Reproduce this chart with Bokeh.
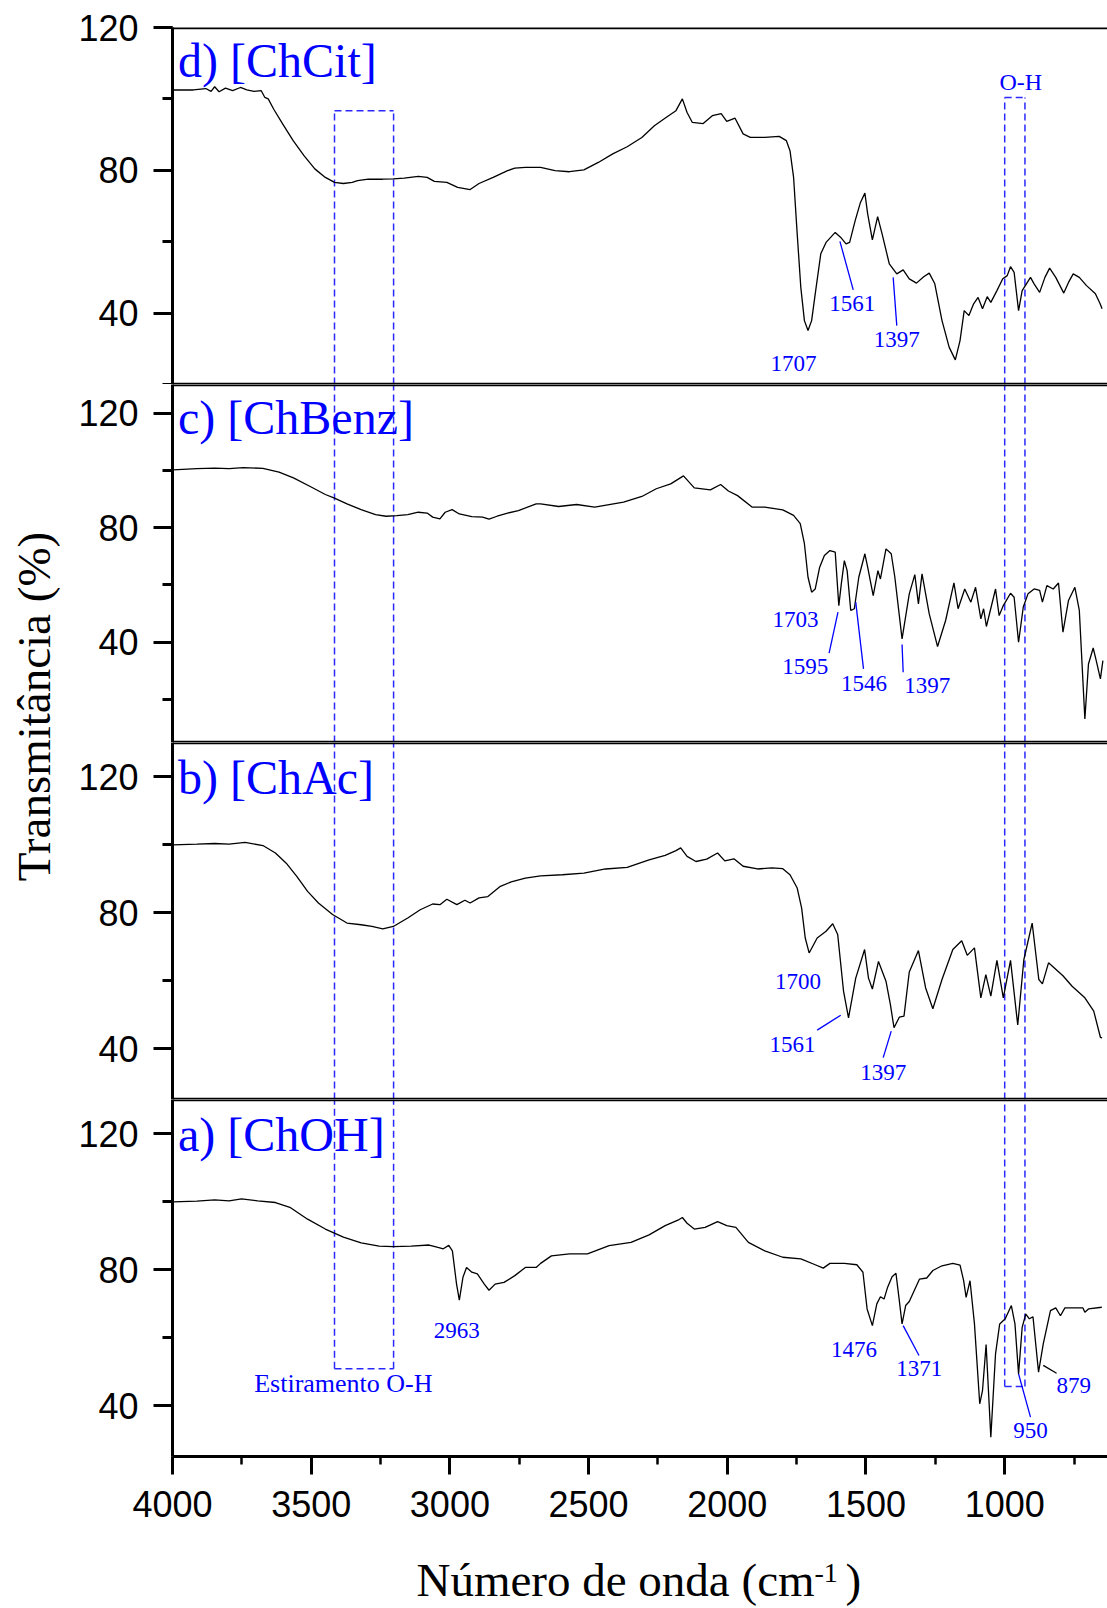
from math import pi
from bokeh.plotting import figure
from bokeh.layouts import row, column
from bokeh.models import Range1d, Span, SingleIntervalTicker
from bokeh.core.properties import value
from bokeh.embed import file_html
from bokeh.resources import INLINE

# ---------------- data: (wavenumber cm-1, transmittance %) ----------------
chcit = [(3998, 102.5), (3925, 102.5), (3880, 102.9), (3861, 102.1), (3848, 103.4), (3832, 102.0),
         (3809, 103.0), (3783, 102.3), (3755, 103.2), (3732, 102.5), (3706, 102.1), (3680, 102.3),
         (3667, 100.4), (3655, 100.0), (3635, 97.1), (3603, 93.0), (3565, 88.3), (3526, 84.1),
         (3487, 80.4), (3449, 78.0), (3416, 76.6), (3384, 76.3), (3352, 76.6), (3333, 77.1),
         (3294, 77.5), (3243, 77.5), (3204, 77.6), (3165, 77.8), (3114, 78.3), (3082, 78.0),
         (3056, 76.9), (3011, 76.6), (2972, 75.2), (2927, 74.6), (2895, 76.3), (2844, 78.0),
         (2792, 79.9), (2766, 80.6), (2728, 80.8), (2689, 80.8), (2673, 80.8), (2621, 79.9),
         (2569, 79.6), (2517, 80.1), (2465, 82.2), (2413, 84.6), (2361, 86.6), (2308, 89.2),
         (2263, 92.5), (2217, 95.0), (2185, 96.7), (2162, 100.0), (2145, 96.2), (2126, 93.4),
         (2087, 93.1), (2054, 95.3), (2022, 95.9), (2002, 93.7), (1972, 94.6), (1943, 90.2),
         (1917, 89.2), (1865, 89.2), (1813, 89.5), (1787, 88.3), (1774, 85.5), (1761, 78.0),
         (1748, 62.2), (1735, 47.2), (1722, 37.9), (1709, 35.1), (1696, 37.9), (1683, 45.4),
         (1663, 56.6), (1644, 59.8), (1611, 62.6), (1591, 61.2), (1572, 59.4), (1559, 59.8),
         (1539, 65.9), (1520, 71.0), (1504, 73.6), (1494, 67.8), (1477, 60.5), (1458, 67.0),
         (1442, 62.2), (1416, 53.8), (1389, 51.0), (1366, 52.1), (1344, 49.6), (1318, 48.4),
         (1292, 50.2), (1272, 51.2), (1252, 48.2), (1226, 37.9), (1200, 30.4), (1178, 26.9),
         (1161, 32.3), (1146, 40.7), (1129, 39.3), (1112, 42.6), (1096, 44.4), (1080, 41.2),
         (1063, 44.6), (1050, 43.0), (1028, 46.3), (1007, 49.6), (991, 50.5), (979, 53.0),
         (966, 51.4), (950, 40.7), (937, 46.3), (907, 50.0), (894, 48.2), (874, 45.8),
         (855, 50.0), (838, 52.6), (816, 50.0), (787, 45.6), (770, 48.6), (753, 51.0),
         (731, 50.0), (705, 47.7), (673, 45.4), (656, 42.6), (649, 41.2)]

chbenz = [(3998, 100.2), (3912, 100.6), (3848, 100.8), (3796, 100.6), (3745, 101.0), (3674, 100.7),
          (3616, 99.4), (3564, 97.4), (3500, 94.2), (3449, 91.6), (3416, 90.3), (3371, 88.3),
          (3320, 86.3), (3268, 84.6), (3230, 84.0), (3191, 84.2), (3152, 84.6), (3114, 85.4),
          (3082, 85.1), (3062, 83.7), (3036, 83.1), (3017, 85.4), (2992, 86.3), (2966, 84.8),
          (2921, 83.9), (2882, 83.7), (2859, 83.0), (2830, 84.0), (2792, 85.1), (2753, 86.0),
          (2689, 88.3), (2673, 88.3), (2608, 87.4), (2543, 88.1), (2478, 87.2), (2374, 88.9),
          (2308, 90.9), (2256, 93.6), (2204, 95.3), (2158, 98.1), (2119, 93.9), (2061, 93.2),
          (2024, 95.1), (1996, 92.8), (1963, 91.2), (1911, 87.2), (1865, 87.2), (1800, 86.2),
          (1761, 84.3), (1737, 81.4), (1722, 74.4), (1709, 62.7), (1696, 57.5), (1683, 58.6),
          (1667, 66.2), (1650, 70.3), (1630, 72.0), (1611, 71.5), (1598, 52.8), (1589, 60.4),
          (1578, 68.5), (1568, 65.0), (1555, 51.1), (1542, 51.7), (1526, 62.7), (1504, 70.9),
          (1494, 66.2), (1474, 56.3), (1457, 65.0), (1448, 62.1), (1428, 72.6), (1409, 70.9),
          (1396, 62.7), (1370, 41.2), (1344, 56.9), (1324, 63.6), (1311, 53.4), (1298, 63.9),
          (1272, 49.9), (1242, 38.5), (1213, 47.6), (1183, 60.7), (1168, 51.7), (1144, 58.6),
          (1122, 54.0), (1105, 59.2), (1086, 48.2), (1076, 51.7), (1066, 45.5), (1033, 58.6),
          (1020, 49.3), (1005, 52.8), (979, 57.1), (966, 55.7), (950, 40.0), (933, 52.3),
          (916, 56.9), (894, 58.6), (874, 58.1), (864, 54.0), (848, 59.8), (825, 58.6),
          (806, 60.7), (790, 43.5), (770, 54.6), (747, 59.2), (731, 51.1), (711, 13.2),
          (698, 32.4), (681, 38.0), (670, 33.6), (655, 27.2), (646, 33.6)]

chac = [(3998, 99.9), (3912, 100.1), (3848, 100.3), (3796, 100.1), (3738, 100.6), (3674, 99.7),
        (3629, 97.5), (3590, 94.5), (3552, 90.6), (3513, 86.2), (3474, 82.8), (3423, 79.4),
        (3371, 76.9), (3320, 76.4), (3281, 75.9), (3242, 75.2), (3204, 75.9), (3152, 78.4),
        (3107, 80.8), (3062, 82.5), (3036, 82.3), (3011, 83.9), (2975, 82.3), (2946, 83.6),
        (2927, 82.8), (2895, 84.3), (2863, 84.7), (2818, 87.7), (2779, 89.0), (2728, 90.1),
        (2673, 90.8), (2595, 91.1), (2517, 91.6), (2439, 92.8), (2361, 93.3), (2282, 95.5),
        (2224, 96.8), (2185, 98.2), (2168, 99.0), (2145, 96.5), (2113, 95.0), (2074, 95.7),
        (2035, 97.5), (2009, 95.2), (1976, 95.8), (1943, 93.6), (1891, 92.8), (1839, 93.1),
        (1800, 92.9), (1774, 91.1), (1748, 87.2), (1732, 81.3), (1719, 72.5), (1705, 68.1),
        (1676, 72.5), (1644, 74.5), (1620, 76.7), (1602, 73.5), (1581, 56.9), (1563, 49.0),
        (1537, 60.7), (1505, 69.1), (1491, 60.7), (1477, 57.5), (1455, 65.6), (1428, 59.8),
        (1412, 52.9), (1399, 46.1), (1380, 49.2), (1363, 49.5), (1344, 62.5), (1311, 68.8),
        (1285, 57.8), (1259, 51.7), (1226, 60.3), (1187, 69.1), (1155, 71.7), (1135, 67.4),
        (1109, 69.6), (1086, 54.9), (1068, 61.7), (1050, 55.4), (1028, 65.9), (1005, 54.9),
        (979, 65.9), (953, 46.9), (931, 66.1), (901, 76.9), (877, 60.3), (864, 59.0),
        (842, 65.2), (790, 61.4), (757, 58.3), (711, 54.9), (679, 51.0), (655, 43.3), (649, 43.1)]

choh = [(3998, 99.9), (3912, 100.1), (3848, 100.5), (3796, 100.2), (3751, 100.8), (3693, 100.2),
        (3629, 99.7), (3577, 98.3), (3513, 94.8), (3449, 91.9), (3384, 89.5), (3320, 87.8),
        (3255, 86.9), (3204, 86.7), (3140, 86.9), (3075, 87.2), (3043, 86.5), (3024, 86.1),
        (3004, 87.1), (2991, 85.5), (2976, 75.7), (2966, 71.0), (2953, 77.7), (2940, 80.6),
        (2921, 79.2), (2901, 78.7), (2876, 75.7), (2859, 73.9), (2837, 75.7), (2805, 76.2),
        (2766, 78.2), (2728, 80.6), (2689, 80.6), (2673, 81.8), (2634, 84.0), (2569, 84.6),
        (2504, 84.6), (2426, 87.0), (2347, 88.0), (2282, 90.2), (2224, 92.9), (2178, 94.5),
        (2162, 95.3), (2145, 93.6), (2119, 91.9), (2080, 92.4), (2035, 94.1), (2002, 92.9),
        (1969, 92.4), (1924, 88.0), (1865, 85.5), (1800, 83.6), (1735, 83.1), (1683, 81.4),
        (1654, 80.4), (1630, 81.8), (1578, 81.8), (1533, 81.4), (1511, 79.2), (1496, 68.4),
        (1477, 63.5), (1461, 69.9), (1448, 72.0), (1435, 71.3), (1422, 74.8), (1406, 77.9),
        (1392, 78.9), (1380, 70.9), (1370, 64.0), (1357, 69.4), (1344, 70.6), (1307, 77.2),
        (1281, 77.5), (1259, 79.7), (1226, 81.1), (1187, 81.8), (1161, 81.3), (1148, 76.7),
        (1139, 71.8), (1125, 76.7), (1109, 64.0), (1090, 40.5), (1080, 44.4), (1067, 57.9),
        (1050, 30.7), (1033, 55.2), (1018, 64.0), (998, 65.5), (976, 69.4), (963, 64.0),
        (950, 49.3), (937, 63.0), (924, 66.9), (911, 65.5), (898, 66.1), (878, 49.8),
        (861, 58.1), (835, 67.9), (816, 68.7), (799, 66.4), (783, 68.7), (744, 68.7),
        (718, 68.7), (711, 67.4), (698, 68.4), (650, 68.9)]

panel_titles = ["d) [ChCit]", "c) [ChBenz]", "b) [ChAc]", "a) [ChOH]"]
y_tick_interval = 40
x_tick_interval = 500

# ---------------- styling / layout constants ----------------
SERIF = value("Liberation Serif")
SANS = "Liberation Sans"
BLUE = "#0000ff"
DASH_BLUE = "#2a2aff"

LEFT_W = 60
PANEL_W = 1107 - LEFT_W
BORDER_L = 112
TOP_B = 27
BOT_B = 80
H_D, H_C, H_B, H_A = 357, 358, 357, 357
XL_H = 71
TOTAL_H = (H_D + TOP_B) + H_C + H_B + (H_A + BOT_B) + XL_H

X_RANGE = Range1d(4000, 629.4)


def make_panel(yr, frame_h, top_border=0, bottom_border=0, show_x=False):
    p = figure(width=PANEL_W, height=frame_h + top_border + bottom_border,
               x_range=X_RANGE, y_range=Range1d(*yr),
               output_backend="svg", toolbar_location=None,
               x_axis_location="below" if show_x else None,
               min_border=0, min_border_left=BORDER_L, min_border_right=0,
               min_border_top=top_border, min_border_bottom=bottom_border)
    p.outline_line_color = None
    p.grid.visible = False
    ya = p.yaxis[0]
    ya.ticker = SingleIntervalTicker(interval=y_tick_interval, num_minor_ticks=2)
    ya.axis_line_width = 3
    ya.major_tick_line_width = 3
    ya.minor_tick_line_width = 3
    ya.major_tick_in = 0
    ya.minor_tick_in = 0
    ya.major_tick_out = 19
    ya.minor_tick_out = 10
    ya.major_label_text_font = SANS
    ya.major_label_text_font_size = "36px"
    ya.major_label_text_color = "black"
    ya.major_label_standoff = 15
    if show_x:
        xa = p.xaxis[0]
        xa.ticker = SingleIntervalTicker(interval=x_tick_interval, num_minor_ticks=2)
        xa.axis_line_width = 3
        xa.major_tick_line_width = 3
        xa.minor_tick_line_width = 2.5
        xa.major_tick_in = 0
        xa.minor_tick_in = 0
        xa.major_tick_out = 18
        xa.minor_tick_out = 8
        xa.major_label_text_font = SANS
        xa.major_label_text_font_size = "36px"
        xa.major_label_text_color = "black"
        xa.major_label_standoff = 16
    # frame top / bottom lines
    p.add_layout(Span(location=yr[1], dimension="width", line_color="black", line_width=3.5))
    if not show_x:
        p.add_layout(Span(location=yr[0], dimension="width", line_color="black", line_width=3.5))
    return p


def spectrum(p, data):
    xs = [d[0] for d in data]
    ys = [d[1] for d in data]
    p.line(xs, ys, line_color="black", line_width=1.3)


def title(p, txt, y):
    p.text(x=[3980], y=[y], text=[txt], text_font=SERIF, text_font_size="48px",
           text_color=BLUE, text_align="left", text_baseline="middle")


def labels(p, items, size="23px"):
    p.text(x=[i[1] for i in items], y=[i[2] for i in items], text=[i[0] for i in items],
           text_font=SERIF, text_font_size=size, text_color=BLUE,
           text_align="center", text_baseline="middle")


def leaders(p, segs, color=BLUE):
    p.segment(x0=[s[0] for s in segs], y0=[s[1] for s in segs],
              x1=[s[2] for s in segs], y1=[s[3] for s in segs],
              line_color=color, line_width=1.3)


def dashed(p, x0, y0, x1, y1):
    p.segment(x0=x0, y0=y0, x1=x1, y1=y1, line_color=DASH_BLUE, line_width=1.5,
              line_dash="7 4")


# dashed boxes (wavenumber edges)
BOX1 = (3416, 3203)   # Estiramento O-H
BOX2 = (1000, 927)    # O-H

# ---------------- panel d ----------------
yr_d = (20, 120)
pd_ = make_panel(yr_d, H_D, top_border=TOP_B)
dashed(pd_, [BOX1[0], BOX1[1], BOX1[0], BOX2[0], BOX2[1], BOX2[0]],
       [yr_d[0], yr_d[0], 96.7, yr_d[0], yr_d[0], 100.4],
       [BOX1[0], BOX1[1], BOX1[1], BOX2[0], BOX2[1], BOX2[1]],
       [96.7, 96.7, 96.7, 100.4, 100.4, 100.4])
spectrum(pd_, chcit)
title(pd_, panel_titles[0], 110.7)
labels(pd_, [("1707", 1761, 26.0), ("1561", 1550, 42.8), ("1397", 1389, 32.5)])
labels(pd_, [("O-H", 942, 104.6)], size="24px")
leaders(pd_, [(1594, 60.1, 1546, 46.5), (1402, 50.0, 1389, 36.5)])

# ---------------- panel c ----------------
yr_c = (5, 130)
pc = make_panel(yr_c, H_C)
dashed(pc, [BOX1[0], BOX1[1], BOX2[0], BOX2[1]], [yr_c[0]] * 4,
       [BOX1[0], BOX1[1], BOX2[0], BOX2[1]], [yr_c[1]] * 4)
spectrum(pc, chbenz)
title(pc, panel_titles[1], 118.6)
labels(pc, [("1703", 1754, 47.8), ("1595", 1719, 31.5), ("1546", 1507, 25.7), ("1397", 1279, 24.9)])
leaders(pc, [(1601, 50.5, 1633, 36.2), (1537, 54.0, 1509, 30.7), (1370, 39.2, 1366, 29.5)])

# ---------------- panel b ----------------
yr_b = (25, 130)
pb = make_panel(yr_b, H_B)
dashed(pb, [BOX1[0], BOX1[1], BOX2[0], BOX2[1]], [yr_b[0]] * 4,
       [BOX1[0], BOX1[1], BOX2[0], BOX2[1]], [yr_b[1]] * 4)
spectrum(pb, chac)
title(pb, panel_titles[2], 119.8)
labels(pb, [("1700", 1745, 59.6), ("1561", 1765, 41.2), ("1397", 1438, 32.85)])
leaders(pb, [(1591, 49.8, 1676, 45.4), (1409, 45.1, 1438, 37.3)])

# ---------------- panel a ----------------
yr_a = (25, 130)
pa = make_panel(yr_a, H_A, bottom_border=BOT_B, show_x=True)
dashed(pa, [BOX1[0], BOX1[1], BOX1[0], BOX2[0], BOX2[1], BOX2[0]],
       [50.8, 50.8, 50.8, 45.6, 45.6, 45.6],
       [BOX1[0], BOX1[1], BOX1[1], BOX2[0], BOX2[1], BOX2[1]],
       [yr_a[1], yr_a[1], 50.8, yr_a[1], yr_a[1], 45.6])
spectrum(pa, choh)
title(pa, panel_titles[3], 119.7)
labels(pa, [("2963", 2975, 62.0), ("1476", 1543, 56.6), ("1371", 1308, 50.8),
            ("950", 907, 32.7), ("879", 751, 45.9)])
labels(pa, [("Estiramento O-H", 3384, 46.4)], size="26px")
leaders(pa, [(1366, 63.5, 1309, 54.7), (950, 49.3, 907, 36.6)])
leaders(pa, [(861, 51.8, 813, 49.5)], color="black")

# ---------------- x-axis title (frame aligned with the panels: x in page pixels) ----------------
xl = figure(width=PANEL_W, height=XL_H, x_range=Range1d(LEFT_W + BORDER_L, 1107),
            y_range=Range1d(0, XL_H),
            output_backend="svg", toolbar_location=None, x_axis_location=None,
            y_axis_location=None, min_border=0, min_border_left=BORDER_L, min_border_right=0)
xl.outline_line_color = None
xl.grid.visible = False
xl.text(x=[416], y=[28], text=["Número de onda (cm"], text_font=SERIF, text_font_size="47px",
        text_align="left", text_baseline="middle", text_color="black")
xl.text(x=[814], y=[35], text=["-1"], text_font=SERIF, text_font_size="28px",
        text_align="left", text_baseline="middle", text_color="black")
xl.text(x=[845], y=[28], text=[")"], text_font=SERIF, text_font_size="47px",
        text_align="left", text_baseline="middle", text_color="black")

# ---------------- y-axis title ----------------
yl = figure(width=LEFT_W, height=TOTAL_H, x_range=Range1d(0, LEFT_W), y_range=Range1d(0, TOTAL_H),
            output_backend="svg", toolbar_location=None, x_axis_location=None,
            y_axis_location=None, min_border=0)
yl.outline_line_color = None
yl.grid.visible = False
yl.text(x=[33], y=[TOTAL_H - 706], text=["Transmitância (%)"], angle=pi / 2,
        text_font=SERIF, text_font_size="47px", text_align="center", text_baseline="middle",
        text_color="black")

layout = row(yl, column(pd_, pc, pb, pa, xl))

open("out.html", "w").write(file_html(layout, INLINE))
